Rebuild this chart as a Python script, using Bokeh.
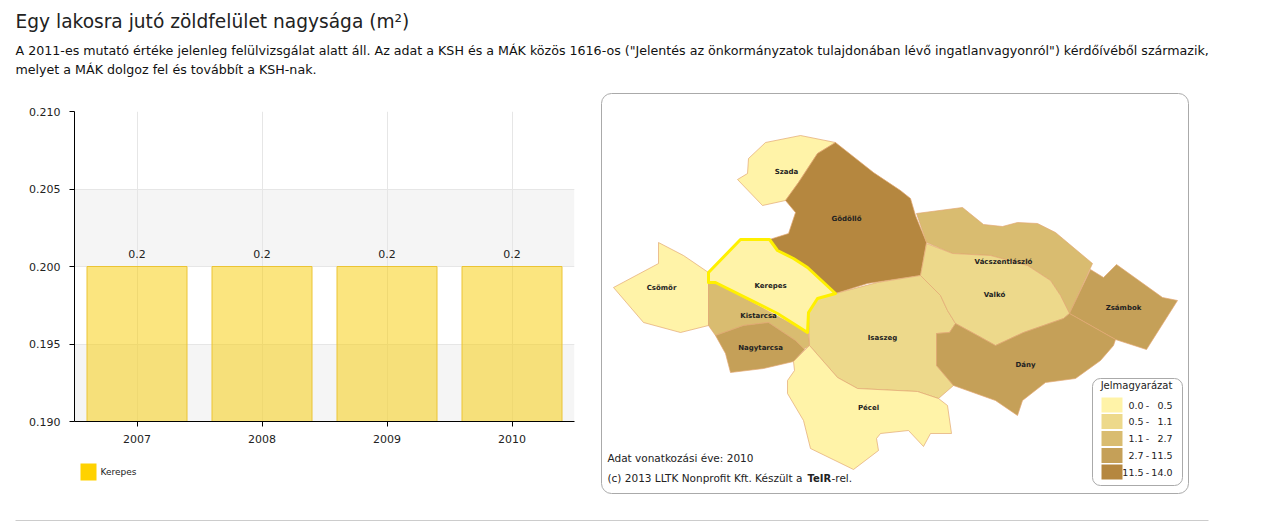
from bokeh.plotting import figure
from bokeh.models import (FactorRange, Range1d, FixedTicker, NumeralTickFormatter,
                          BoxAnnotation, ColumnDataSource)
from bokeh.core.properties import value
from bokeh.embed import file_html
from bokeh.resources import INLINE

FONT = "DejaVu Sans"
TITLE = "Egy lakosra jutó zöldfelület nagysága (m²)"
INTRO = ['A 2011-es mutató értéke jelenleg felülvizsgálat alatt áll. Az adat a KSH és a MÁK közös 1616-os ("Jelentés az önkormányzatok tulajdonában lévő ingatlanvagyonról") kérdőívéből származik,',
         'melyet a MÁK dolgoz fel és továbbít a KSH-nak.']
years = ["2007", "2008", "2009", "2010"]
values = [0.2, 0.2, 0.2, 0.2]
value_labels = ["0.2", "0.2", "0.2", "0.2"]
y_ticks = [0.19, 0.195, 0.2, 0.205, 0.21]
series_name = "Kerepes"

legend_title = "Jelmagyarázat"
class_low = ["0.0", "0.5", "1.1", "2.7", "11.5"]
class_high = ["0.5", "1.1", "2.7", "11.5", "14.0"]
class_colors = ["#FFF3A8", "#EDD98B", "#D9BC70", "#C5A058", "#B5873F"]

# municipality: (class index, outline x, outline y, label x, label y) on the map's own grid
szada = (0, [835,800,765,748,747,737,762,785,798,817], [142,135,142,158,173,179,205,200,182,153], 786, 171)
godollo = (4, [835,873,900,910,915,926,920,900,867,835,807,793,777,769,788,795,785,798,817],
           [142,172,190,198,215,242,275,278,283,293,267,258,250,239,233,212,200,182,153], 846, 218)
csomor = (0, [658,658,613,643,680,708,708,708,683], [242,263,287,322,332,325,282,272,255], 661, 287)
kistarcsa = (2, [708,715,807,808,809,803,795,768,743,715,708], [282,282,332,332,345,349,340,322,325,335,325], 758, 315)
nagytarcsa = (3, [715,743,768,795,804,793,763,730,725], [335,325,322,340,349,361,368,372,353], 760, 347)
isaszeg = (1, [817,835,877,920,940,947,955,949,936,936,953,938,917,857,837,809,808],
           [298,293,282,275,295,310,323,332,333,365,385,398,391,388,377,345,312], 882, 337)
pecel = (0, [809,837,857,917,938,947,951,930,923,908,880,876,878,853,810,803,787,787,794,793],
         [345,377,388,391,398,405,433,433,446,430,433,438,450,469,448,420,393,380,370,361], 868, 407)
valko = (1, [926,952,990,1027,1050,1060,1069,1063,1023,995,977,955,947,940,920],
         [243,253,255,265,280,295,313,318,332,345,335,323,310,295,275], 994, 294)
vacszent = (2, [916,962,983,1002,1017,1037,1055,1092,1069,1060,1050,1027,990,952,926],
            [213,207,224,226,222,223,232,263,313,295,280,265,255,253,242], 1003, 261)
zsambok = (3, [1090,1103,1116,1162,1177,1146,1115,1069], [269,277,264,297,300,349,339,313], 1123, 307)
dany = (3, [1069,1115,1113,1100,1075,1045,1022,1017,995,953,936,936,949,955,977,995,1023,1063],
        [313,339,345,360,378,382,400,415,400,385,365,333,332,323,335,345,332,318], 1025, 364)
kerepes = (0, [740,769,777,793,807,835,817,808,807,777,715,708,708],
           [239,239,250,258,267,293,298,312,332,313,282,282,272], 770, 285)
towns = {"Szada": szada, "Gödöllő": godollo, "Csömör": csomor, "Kistarcsa": kistarcsa, "Nagytarcsa": nagytarcsa,
         "Isaszeg": isaszeg, "Pécel": pecel, "Vácszentlászló": vacszent, "Valkó": valko, "Zsámbok": zsambok,
         "Dány": dany, "Kerepes": kerepes}
data_year_note = "Adat vonatkozási éve: 2010"
credit = ["(c) 2013 LLTK Nonprofit Kft. Készült a ", "TeIR", "-rel."]


def place(left, top):
    return {"position": "absolute", "left": f"{left}px", "top": f"{top}px"}


def blank(w, h, xr, yr, left, top):
    f = figure(width=w, height=h, x_range=xr, y_range=yr, output_backend="svg", toolbar_location=None,
               min_border=0, outline_line_color=None, x_axis_location=None, y_axis_location=None,
               styles=place(left, top))
    f.grid.visible = False
    return f


# ---------- header
head = blank(1253, 82, Range1d(8, 1261), Range1d(90, 8), 8, 8)
head.text([15], [21], text=[TITLE], text_font=value(FONT), text_font_size="18.6px", text_color="#222222",
          text_baseline="middle")
head.text([15, 15], [50, 69], text=INTRO, text_font=value(FONT), text_font_size="12.65px", text_color="#111111",
          text_baseline="middle")

# ---------- chart
p = figure(width=588, height=360, x_range=FactorRange(factors=years, range_padding=0, factor_padding=0),
           y_range=Range1d(0.19, 0.21), output_backend="svg", toolbar_location=None,
           min_border_left=66, min_border_right=22, min_border_top=21, min_border_bottom=29,
           outline_line_color=None, styles=place(8, 90))
for lo, hi in ((y_ticks[0], y_ticks[1]), (y_ticks[2], y_ticks[3])):
    p.add_layout(BoxAnnotation(bottom=lo, top=hi, fill_color="#F5F5F5", fill_alpha=1, line_alpha=0, level="image"))
bars = p.vbar(x=years, top=values, bottom=y_ticks[0], width=0.8, fill_color="#F7CC00", fill_alpha=0.5,
              line_color="#EBC434", line_width=1)
src = ColumnDataSource(dict(x=years, y=values, t=value_labels))
p.text("x", "y", text="t", source=src, text_align="center", text_baseline="bottom", y_offset=-9,
       text_font=value(FONT), text_font_size="11px", text_color="#222222")

p.yaxis.ticker = FixedTicker(ticks=y_ticks)
p.ygrid.ticker = FixedTicker(ticks=y_ticks)
p.yaxis.formatter = NumeralTickFormatter(format="0.000")
for ax in (p.xaxis[0], p.yaxis[0]):
    ax.major_tick_in = 0
    ax.major_tick_out = 5
    ax.minor_tick_out = 0
    ax.minor_tick_in = 0
    ax.major_label_text_font = FONT
    ax.major_label_text_font_size = "11px"
    ax.major_label_text_color = "#222222"
    ax.axis_line_color = "#000000"
    ax.major_tick_line_color = "#000000"
p.xaxis.major_label_standoff = 8
p.yaxis.major_label_standoff = 9
p.xgrid.grid_line_color = "#E6E6E6"
p.ygrid.grid_line_color = "#E6E6E6"
p.grid.level = "underlay"

# ---------- chart legend
leg = blank(200, 40, Range1d(8, 208), Range1d(490, 450), 8, 450)
leg.quad(left=80, right=96, top=463, bottom=480, fill_color="#FFD200", line_color=None)
leg.text([100], [471], text=[series_name], text_baseline="middle", text_font=value(FONT), text_font_size="9px",
         text_color="#222222")

# ---------- map
m = blank(665, 422, Range1d(596, 1261), Range1d(512, 90), 596, 90)
m.add_layout(BoxAnnotation(left=601, right=1188, top=93, bottom=493, fill_color="white", fill_alpha=1,
                           line_color="#AAAAAA", line_alpha=1, line_width=1, border_radius=10, level="underlay"))
m.add_layout(BoxAnnotation(left=1092, right=1182, top=378, bottom=485, fill_color="white", fill_alpha=1,
                           line_color="#AAAAAA", line_alpha=1, line_width=1, border_radius=8, level="underlay"))
for name, (c, xs, ys, lx, ly) in towns.items():
    sel = name == series_name
    m.patch(xs, ys, fill_color=class_colors[c], line_color="#FFF000" if sel else "#E3A873",
            line_width=3 if sel else 0.7, line_join="round")
for name, (c, xs, ys, lx, ly) in towns.items():
    m.text([lx], [ly], text=[name], text_align="center", text_baseline="middle", text_font=value(FONT),
           text_font_style="bold", text_font_size="7px", text_color="#222222")
m.text([1136], [385], text=[legend_title], text_align="center", text_baseline="middle", text_font=value(FONT),
       text_font_size="10px", text_color="#222222")
sw_top = [397, 413.5, 430.5, 447.5, 464]
m.quad(left=1101, right=1122, top=sw_top, bottom=[t + 15 for t in sw_top], fill_color=class_colors, line_color=None)
row_y = [t + 7.5 for t in sw_top]
m.text([1143] * 5, row_y, text=class_low, text_align="right", text_baseline="middle",
       text_font=value(FONT), text_font_size="9.5px", text_color="#222222")
m.text([1147] * 5, row_y, text=["-"] * 5, text_align="center", text_baseline="middle",
       text_font=value(FONT), text_font_size="9.5px", text_color="#222222")
m.text([1172] * 5, row_y, text=class_high, text_align="right", text_baseline="middle",
       text_font=value(FONT), text_font_size="9.5px", text_color="#222222")
m.text([607], [457.5], text=[data_year_note], text_baseline="middle", text_font=value(FONT), text_font_size="10.5px",
       text_color="#222222")
m.text([607], [477.5], text=[credit[0]], text_baseline="middle", text_font=value(FONT), text_font_size="10.5px",
       text_color="#222222")
m.text([807], [477.5], text=[credit[1]], text_baseline="middle", text_font=value(FONT), text_font_style="bold",
       text_font_size="10px", text_color="#222222")
m.text([831], [477.5], text=[credit[2]], text_baseline="middle", text_font=value(FONT), text_font_size="10.5px",
       text_color="#222222")

# ---------- bottom rule
foot = blank(1253, 11, Range1d(8, 1261), Range1d(523, 512), 8, 512)
foot.segment([15], [519], [1208], [519], line_color="#CCCCCC", line_width=1)

open("out.html", "w").write(file_html([head, p, leg, m, foot], INLINE))
